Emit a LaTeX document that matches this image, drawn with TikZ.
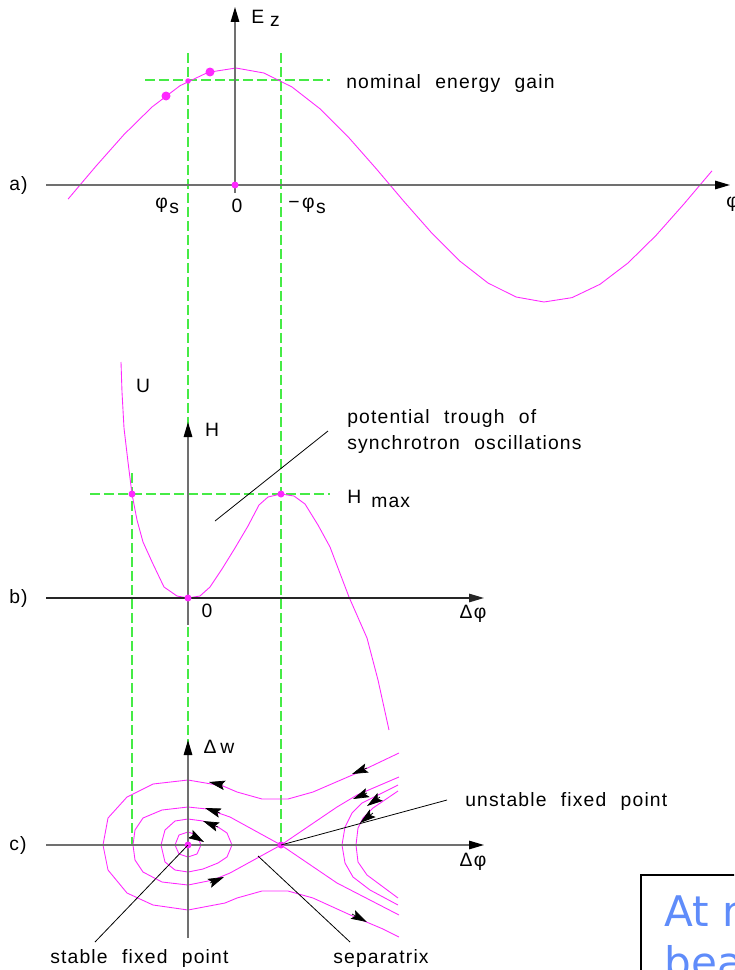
\documentclass[tikz,border=0pt]{standalone}
\usepackage{fontspec}
\setmainfont{Liberation Sans}[LetterSpace=6,WordSpace=2.2]
\newfontfamily\notefont{DejaVu Sans}
\usetikzlibrary{arrows.meta,positioning}
\definecolor{phasemag}{RGB}{255,40,255}
\definecolor{guidegreen}{RGB}{70,235,70}
\definecolor{axisgray}{RGB}{112,112,112}
\definecolor{noteblue}{RGB}{95,140,250}

\begin{document}
\begin{tikzpicture}[
    x=0.02cm, y=-0.02cm,
    axis/.style={axisgray, line width=0.8pt,
                 -{Triangle[length=0.3cm,width=0.17cm,color=black]}},
    guide/.style={guidegreen, line width=0.7pt, dash pattern=on 0.2cm off 0.08cm},
    orbit/.style={phasemag, line width=0.5pt, line join=round},
    lead/.style={black, line width=0.45pt},
    flow/.style={black, line width=0.4pt,
                 -{Stealth[length=0.32cm,width=0.19cm,inset=0.06cm]}},
    dot/.style={circle, fill=phasemag, inner sep=0pt, minimum size=0.14cm},
    bigdot/.style={dot, minimum size=0.18cm},
    lbl/.style={font=\fontsize{11}{14.7}\selectfont, inner sep=0pt},
  ]
  \useasboundingbox (0,0) rectangle (734,970);

  % --- guide lines ---
  \draw[guide] (188,53) -- (188,845);
  \draw[guide] (281,53) -- (281,845);
  \draw[guide] (132,473) -- (132,845);
  \draw[guide] (145,80) -- (330,80);
  \draw[guide] (90,494) -- (330,494);

  % --- a) energy gain ---
  \draw[orbit] plot[domain=68:712, samples=24] (\x, {185-117*cos((\x-235)/310*180)});
  \draw[axis] (46,185) -- (730,185);
  \draw[axis] (235,193) -- (235,7);
  \node[bigdot] (pa) at (166,96) {};
  \node[bigdot] (pb) at (210,72) {};
  \node[dot, minimum size=0.11cm] (ps) at (188,81) {};
  \node[dot] (oa) at (235,185) {};

  \node[lbl, anchor=base west] (ez) at (251,23) {E\hspace{0.12cm}\raisebox{-0.08cm}{z}};
  \node[lbl, anchor=base west] (gain) at (346,88) {nominal energy gain};
  \node[lbl, anchor=base west] (la) at (9,190) {a)};
  \node[lbl, anchor=base west] (phis) at (155,208) {φ\hspace{0.03cm}\raisebox{-0.1cm}{s}};
  \node[lbl] (za) at (237,206) {0};
  \node[lbl, anchor=base west] (mphis) at (288,208) {−\hspace{0.05cm}φ\hspace{0.03cm}\raisebox{-0.1cm}{s}};
  \node[lbl, anchor=base west] (phia) at (726,207) {φ};

  % --- b) potential ---
  \draw[orbit] (121,362) -- (122,392) -- (124,428) -- (128,462) -- (132,494)
    -- (137,520) -- (143,542) -- (153,564) -- (164,587) -- (177,596)
    -- (188,598) -- (200,596) -- (210,587) -- (222,569) -- (235,548)
    -- (248,526) -- (259,505) -- (268,497) -- (281,494) -- (294,496)
    -- (305,504) -- (318,525) -- (330,547) -- (349,597) -- (367,638)
    -- (378,680) -- (389,730);
  \draw[black!85, line width=0.8pt, -{Triangle[length=0.3cm,width=0.17cm]}]
    (46,598) -- (484,598);
  \draw[axis] (188,625) -- (188,422);
  \node[dot] (ul) at (132,494) {};
  \node[dot] (ob) at (188,598) {};
  \node[dot] (hm) at (281,494) {};

  \node[lbl] (u) at (143,386) {U};
  \node[lbl] (h) at (212,430) {H};
  \node[lbl, anchor=base west, align=left] (trtxt) at (347,449)
    {potential trough of\\synchrotron oscillations};
  \node[lbl, anchor=base west] (hmax) at (347,503) {H\hspace{0.2cm}\raisebox{-0.08cm}{max}};
  \node[lbl, anchor=base west] (lb) at (9,603) {b)};
  \node[lbl] (zb) at (207,611) {0};
  \node[lbl] (dphib) at (473,614) {Δφ};
  \coordinate (trough) at (215,521);
  \coordinate (trend) at (328,431);
  \draw[lead] (trough) -- (trend);

  % --- c) phase space ---
  % outer open orbit
  \draw[orbit] (399,753) -- (357,773) -- (313,792) -- (288,799) -- (262,799)
    -- (237,792) -- (223,786) -- (188,780) -- (153,784) -- (127,797)
    -- (108,818) -- (103,845) -- (108,870) -- (127,893) -- (153,905)
    -- (188,910) -- (225,903) -- (237,898) -- (262,891) -- (288,891)
    -- (313,898) -- (357,918) -- (383,929) -- (399,937);
  % separatrix
  \draw[orbit] (399,777) -- (357,795) -- (337,807) -- (281,845) -- (230,873)
    -- (213,880) -- (188,885) -- (162,882) -- (143,872) -- (135,860)
    -- (133,845) -- (135,830) -- (143,818) -- (162,810) -- (188,807)
    -- (207,809) -- (230,817) -- (281,845) -- (337,883) -- (399,915);
  % closed orbits
  \draw[orbit] (188,819) -- (203,821) -- (218,827) -- (227,833) -- (232,845)
    -- (227,857) -- (218,863) -- (203,869) -- (188,872) -- (175,870)
    -- (165,862) -- (161,845) -- (165,830) -- (175,821) -- cycle;
  \draw[orbit] (188,832) -- (197,835) -- (201,845) -- (197,854) -- (188,857)
    -- (179,854) -- (175,845) -- (179,835) -- cycle;
  % orbits right of the separatrix
  \draw[orbit] (398,785) -- (380,794) -- (362,803) -- (352,813) -- (345,827)
    -- (342,845) -- (345,863) -- (353,877) -- (370,890) -- (398,905);
  \draw[orbit] (398,791) -- (373,808) -- (363,818) -- (358,828) -- (356,845)
    -- (358,862) -- (367,875) -- (398,898);

  \foreach \xa/\ya/\xb/\yb in {223/785/209/782, 220/813/205/808,
      218/827/203/821, 192/835/204/842, 210/883/224/877, 367/768/352/774,
      367/793/353/799, 380/797/367/806, 373/813/360/823, 352/914/367/922}
    \draw[flow] (\xa,\ya) -- (\xb,\yb);

  \draw[axis] (46,845) -- (484,845);
  \draw[axis] (188,938) -- (188,740);
  \node[dot] (sfp) at (188,845) {};
  \node[dot] (ufp) at (281,845) {};

  \node[lbl] (dw) at (219,747) {Δ\hspace{0.08cm}w};
  \node[lbl, anchor=base west] (lc) at (9,850) {c)};
  \node[lbl] (dphic) at (473,862) {Δφ};
  \node[lbl, anchor=base west] (unstab) at (465,806) {unstable fixed point};
  \node[lbl, anchor=base west] (stab) at (50,963) {stable fixed point};
  \node[lbl, anchor=base west] (septxt) at (333,963) {separatrix};

  \coordinate (unend) at (447,800);
  \coordinate (stend) at (95,942);
  \coordinate (sepon) at (258,856);
  \coordinate (sepend) at (350,942);
  \draw[lead] (ufp.center) -- (unend);
  \draw[lead] (sfp.center) -- (stend);
  \draw[lead] (sepon) -- (sepend);

  % --- note box ---
  \begin{scope}
    \clip (0,0) rectangle (734,970);
    \draw[line width=1.6pt] (641,875) rectangle (800,1020);
    \node[anchor=base west, inner sep=0pt, text=noteblue, align=left,
          font=\notefont\fontsize{24}{29}\selectfont] (note) at (664,977) {At m\\bea};
  \end{scope}
\end{tikzpicture}
\end{document}
